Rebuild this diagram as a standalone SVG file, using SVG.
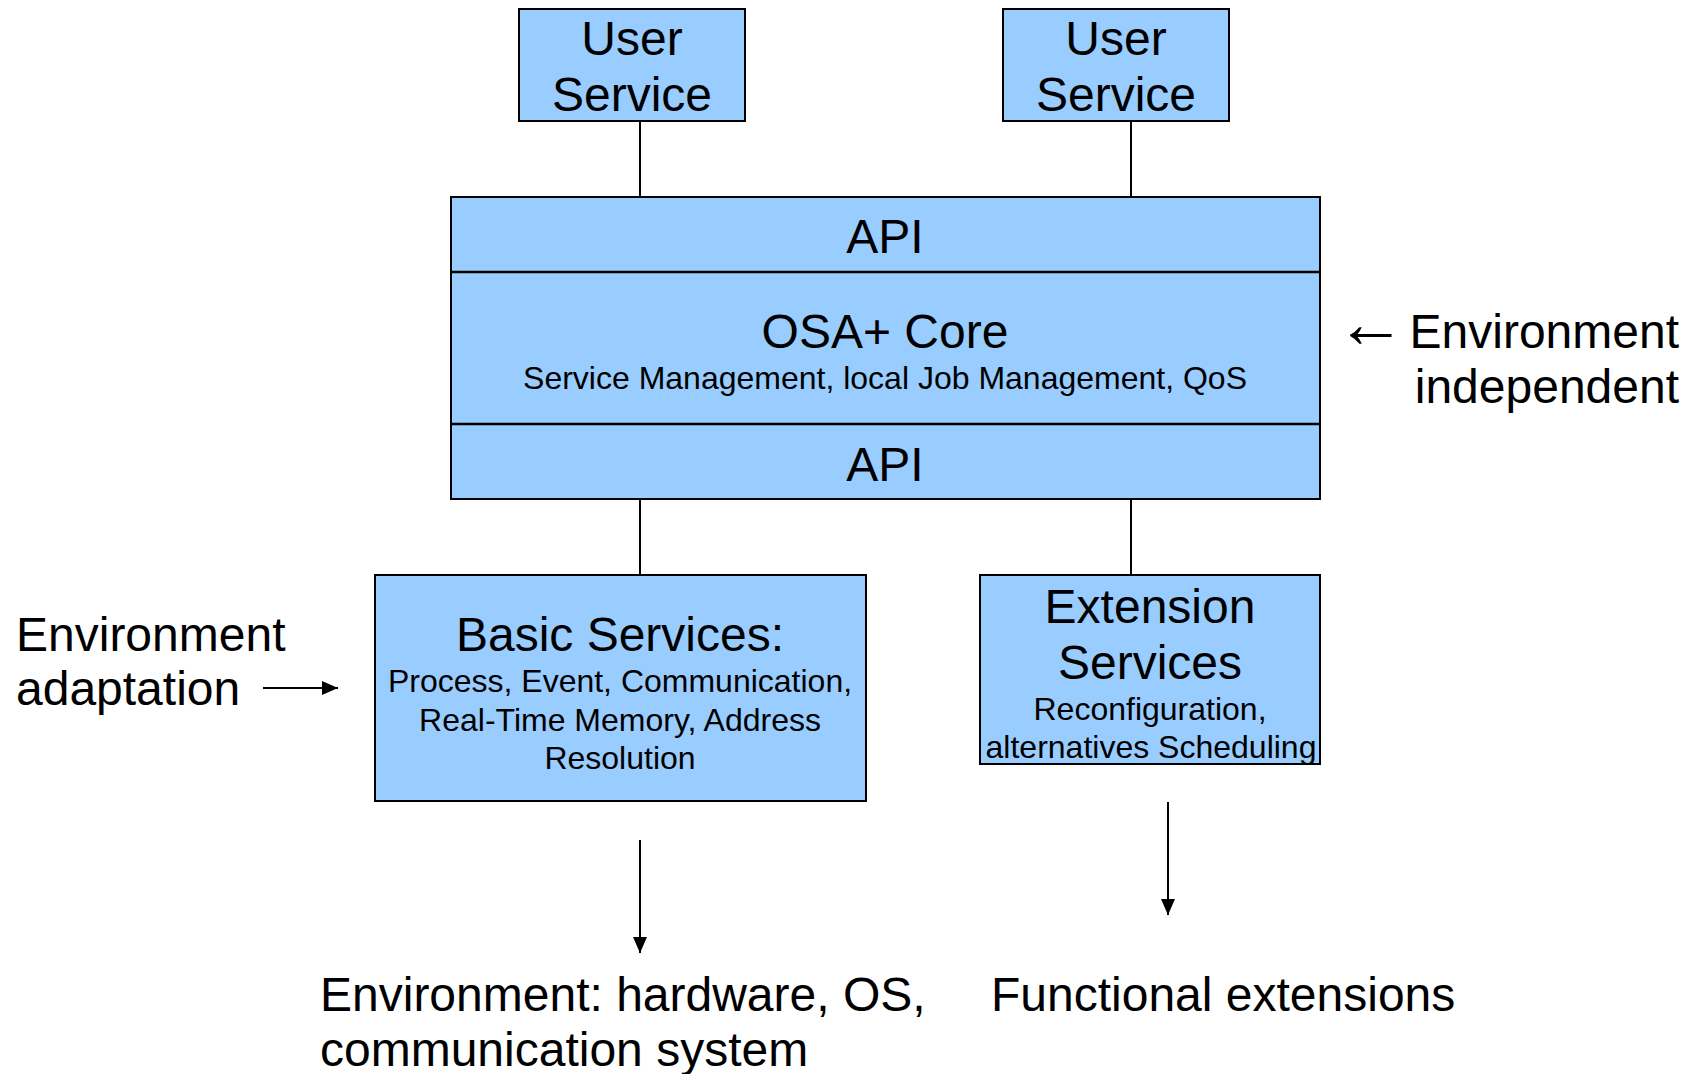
<svg xmlns="http://www.w3.org/2000/svg" width="1696" height="1074" viewBox="0 0 1696 1074">
  <style>
    .box { fill: #99ccff; stroke: #000; stroke-width: 2; }
    .div { stroke: #000; stroke-width: 2.5; }
    .wire { stroke: #000; stroke-width: 2; fill: none; }
    .big { font-family: "Liberation Sans", Arial, sans-serif; font-size: 48px; fill: #000; }
    .small { font-family: "Liberation Sans", Arial, sans-serif; font-size: 32px; fill: #000; }
    .mid { text-anchor: middle; }
  </style>
  <defs>
    <marker id="head" viewBox="0 0 16 14" refX="16" refY="7" markerWidth="16" markerHeight="14" markerUnits="userSpaceOnUse" orient="auto">
      <path d="M0,0 L16,7 L0,14 Z" fill="#000"/>
    </marker>
  </defs>

  <rect width="1696" height="1074" fill="#fff"/>

  <!-- connectors -->
  <g id="connectors">
    <line class="wire" x1="640" y1="122" x2="640" y2="197"/>
    <line class="wire" x1="1131" y1="122" x2="1131" y2="197"/>
    <line class="wire" x1="640" y1="499" x2="640" y2="575"/>
    <line class="wire" x1="1131" y1="499" x2="1131" y2="575"/>
    <line class="wire" x1="640" y1="840" x2="640" y2="953" marker-end="url(#head)"/>
    <line class="wire" x1="1168" y1="802" x2="1168" y2="915" marker-end="url(#head)"/>
    <line class="wire" x1="263" y1="688" x2="338" y2="688" marker-end="url(#head)"/>
  </g>

  <!-- top user services -->
  <g id="user-service-1">
    <rect class="box" x="519" y="9" width="226" height="112"/>
    <text class="big mid" x="632" y="55">User</text>
    <text class="big mid" x="632" y="111">Service</text>
  </g>
  <g id="user-service-2">
    <rect class="box" x="1003" y="9" width="226" height="112"/>
    <text class="big mid" x="1116" y="55">User</text>
    <text class="big mid" x="1116" y="111">Service</text>
  </g>

  <!-- core stack: API / OSA+ Core / API -->
  <g id="core">
    <rect class="box" x="451" y="197" width="869" height="302"/>
    <line class="div" x1="451" y1="272" x2="1320" y2="272"/>
    <line class="div" x1="451" y1="424" x2="1320" y2="424"/>
    <text class="big mid" x="885" y="253">API</text>
    <text class="big mid" x="885" y="348">OSA+ Core</text>
    <text class="small mid" x="885" y="389">Service Management, local Job Management, QoS</text>
    <text class="big mid" x="885" y="481">API</text>
  </g>

  <g id="basic-services">
    <rect class="box" x="375" y="575" width="491" height="226"/>
    <text class="big mid" x="620" y="651">Basic Services:</text>
    <text class="small mid" x="620" y="692">Process, Event, Communication,</text>
    <text class="small mid" x="620" y="731">Real-Time Memory, Address</text>
    <text class="small mid" x="620" y="769">Resolution</text>
  </g>

  <g id="extension-services">
    <rect class="box" x="980" y="575" width="340" height="189"/>
    <text class="big mid" x="1150" y="623">Extension</text>
    <text class="big mid" x="1150" y="679">Services</text>
    <text class="small mid" x="1150" y="720">Reconfiguration,</text>
    <text class="small mid" x="1151" y="758">alternatives Scheduling</text>
  </g>

  <!-- side and bottom annotations -->
  <g id="label-independent">
    <text class="big" x="1336" y="347" style="font-size:70px">←</text>
    <text class="big" x="1679" y="348" text-anchor="end">Environment</text>
    <text class="big" x="1679" y="403" text-anchor="end">independent</text>
  </g>
  <g id="label-adaptation">
    <text class="big" x="16" y="651">Environment</text>
    <text class="big" x="16" y="705">adaptation</text>
  </g>
  <g id="label-environment">
    <text class="big" x="320" y="1011">Environment: hardware, OS,</text>
    <text class="big" x="320" y="1066">communication system</text>
  </g>
  <g id="label-functional">
    <text class="big" x="991" y="1011">Functional extensions</text>
  </g>
</svg>
